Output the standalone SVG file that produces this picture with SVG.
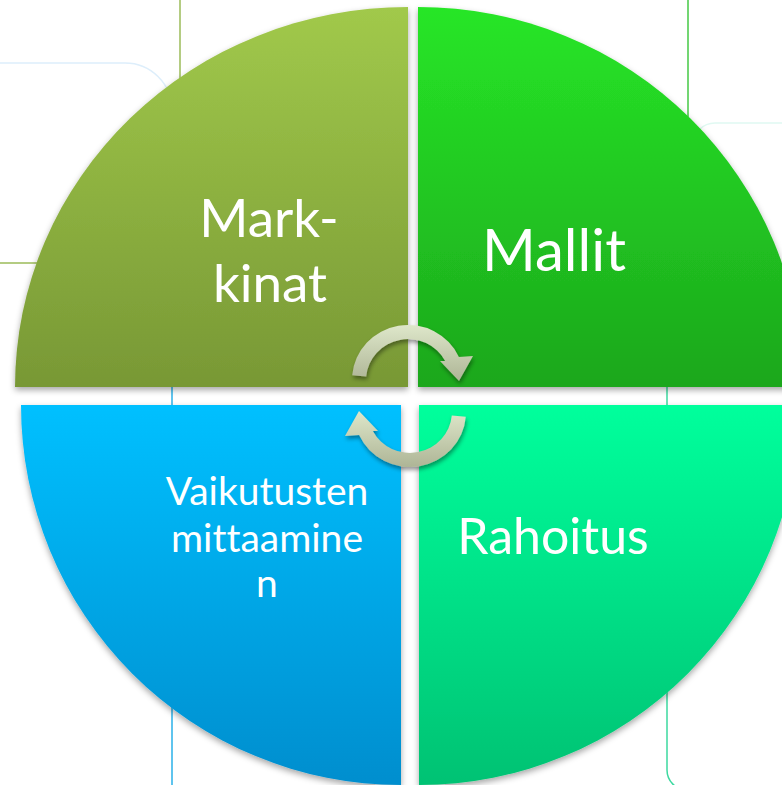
<svg xmlns="http://www.w3.org/2000/svg" width="782" height="785" viewBox="0 0 782 785">
  <style>
    .bg { fill: none; stroke-width: 1.5; }
    .lbl { font-family: Lato, "Open Sans", "Liberation Sans", sans-serif; fill: #ffffff; text-anchor: middle; font-variant-ligatures: none; font-feature-settings: "liga" 0, "clig" 0; }
    .quad { filter: url(#qshadow); }
  </style>
  <defs>
    <linearGradient id="gTL" x1="0" y1="0" x2="0" y2="1">
      <stop offset="0" stop-color="#A1C94B"/>
      <stop offset="1" stop-color="#789835"/>
    </linearGradient>
    <linearGradient id="gTR" x1="0" y1="0" x2="0" y2="1">
      <stop offset="0" stop-color="#27E627"/>
      <stop offset="1" stop-color="#1CA71C"/>
    </linearGradient>
    <linearGradient id="gBL" x1="0" y1="0" x2="0" y2="1">
      <stop offset="0" stop-color="#00C0FF"/>
      <stop offset="1" stop-color="#008ECE"/>
    </linearGradient>
    <linearGradient id="gBR" x1="0" y1="0" x2="0" y2="1">
      <stop offset="0" stop-color="#00FF9C"/>
      <stop offset="1" stop-color="#00C273"/>
    </linearGradient>
    <linearGradient id="gArr" x1="0" y1="0" x2="0" y2="1">
      <stop offset="0" stop-color="#DEE7CA"/>
      <stop offset="1" stop-color="#AEB596"/>
    </linearGradient>
    <linearGradient id="gArrR" x1="0" y1="1" x2="0" y2="0">
      <stop offset="0" stop-color="#DEE7CA"/>
      <stop offset="1" stop-color="#AEB596"/>
    </linearGradient>
    <filter id="qshadow" x="-10%" y="-10%" width="120%" height="120%">
      <feDropShadow dx="0" dy="3" stdDeviation="3" flood-color="#000" flood-opacity="0.35"/>
    </filter>
    <filter id="ashadow" x="-20%" y="-20%" width="140%" height="150%">
      <feDropShadow dx="1" dy="3" stdDeviation="2" flood-color="#000" flood-opacity="0.4"/>
    </filter>
  </defs>

  <rect width="782" height="785" fill="#ffffff"/>

  <g id="background">
    <path class="bg" d="M180,0 V95" stroke="#9BBB59"/>
    <path class="bg" d="M0,263 H60" stroke="#9BBB59"/>
    <path class="bg" d="M0,63 H125 A47,47 0 0 1 172,110" stroke="#DDEEFB"/>
    <path class="bg" d="M688,0 V135" stroke="#44C844"/>
    <path class="bg" d="M693,145 A22,22 0 0 1 715,123 H782" stroke="#E0F9F2"/>
    <path class="bg" d="M667,370 V770 A20,20 0 0 0 687,790" stroke="#3CD9A0"/>
    <path class="bg" d="M172,300 V785" stroke="#2AB0E8"/>
  </g>

  <g id="node-markkinat">
    <path class="quad" d="M408,387 H15 A393,380 0 0 1 408,7 Z" fill="url(#gTL)"/>
    <text class="lbl" x="269" y="237" font-size="53">Mark-</text>
    <text class="lbl" x="270" y="302" font-size="53">kinat</text>
  </g>

  <g id="node-mallit">
    <path class="quad" d="M418,387 V7 A385,380 0 0 1 803,387 Z" fill="url(#gTR)"/>
    <text class="lbl" x="554" y="271" font-size="58">Mallit</text>
  </g>

  <g id="node-vaikutusten">
    <path class="quad" d="M401,405 V785 A380,380 0 0 1 21,405 Z" fill="url(#gBL)"/>
    <text class="lbl" x="267" y="505" font-size="39">Vaikutusten</text>
    <text class="lbl" x="267" y="552" font-size="39">mittaamine</text>
    <text class="lbl" x="267" y="597" font-size="39">n</text>
  </g>

  <g id="node-rahoitus">
    <path class="quad" d="M419,405 H799 A380,380 0 0 1 419,785 Z" fill="url(#gBR)"/>
    <text class="lbl" x="553" y="554" font-size="50">Rahoitus</text>
  </g>

  <g id="connectors">
    <g filter="url(#ashadow)">
      <path d="M352.2,375.2 A56,55 0 0 1 458.9,357 L473,356 L459,381 L440,361 L445.2,361 A42,41 0 0 0 366.2,376.4 Z" fill="url(#gArr)"/>
    </g>
    <g filter="url(#ashadow)">
      <path transform="rotate(180 409 396)" d="M352.2,375.2 A56,55 0 0 1 458.9,357 L473,356 L459,381 L440,361 L445.2,361 A42,41 0 0 0 366.2,376.4 Z" fill="url(#gArrR)"/>
    </g>
  </g>
</svg>
